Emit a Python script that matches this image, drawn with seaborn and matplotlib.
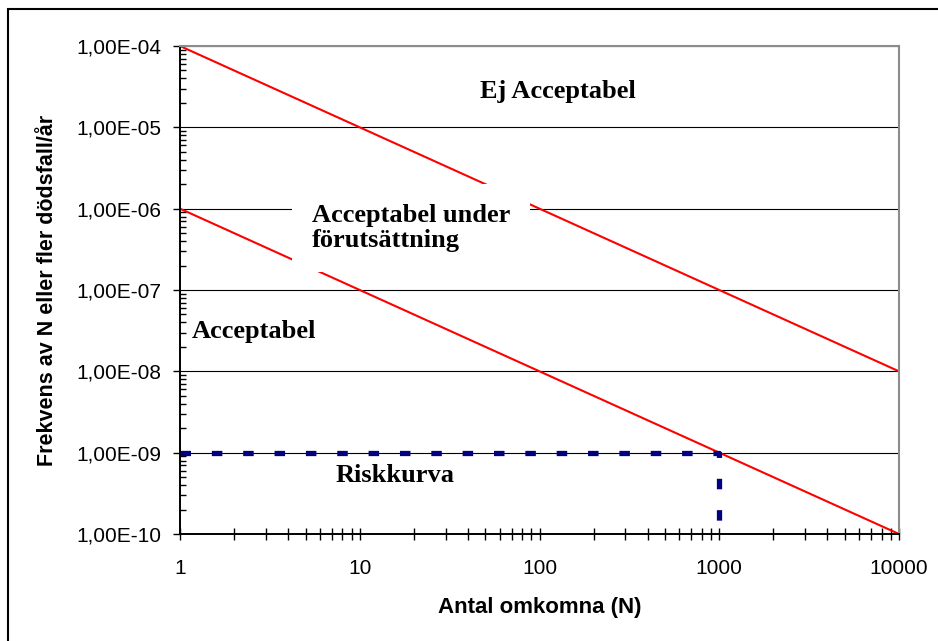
import numpy as np
import matplotlib
matplotlib.use('Agg')
import matplotlib.pyplot as plt
import matplotlib.ticker as mticker
from matplotlib.patches import Rectangle
import seaborn as sns

# Gränslinjer för risknivåer (antal omkomna N, frekvens per år)
upper_n = [1, 10000]
upper_f = [1e-4, 1e-8]
lower_n = [1, 10000]
lower_f = [1e-6, 1e-10]

# Riskkurva
risk_n = [1, 1000, 1000]
risk_f = [1e-9, 1e-9, 1e-10]

x_ticks = [1, 10, 100, 1000, 10000]
y_ticks = [1e-10, 1e-9, 1e-8, 1e-7, 1e-6, 1e-5, 1e-4]

sns.set_style('ticks')
plt.rcParams['font.family'] = ['Liberation Sans', 'DejaVu Sans']
plt.rcParams['text.color'] = 'black'

fig = plt.figure(figsize=(9.38, 6.41), dpi=100)
ax = fig.add_axes([180 / 938, 1 - 534 / 641, 719 / 938, 488 / 641])

sns.lineplot(x=upper_n, y=upper_f, color='#ff0000', lw=1.5, estimator=None, sort=False, ax=ax)
sns.lineplot(x=lower_n, y=lower_f, color='#ff0000', lw=1.5, estimator=None, sort=False, ax=ax)
sns.lineplot(x=risk_n, y=risk_f, color='#000080', lw=3.8, estimator=None, sort=False, ax=ax)
risk_line = ax.lines[-1]
risk_line.set_dashes((1.99, 3.95))
risk_line.set_dash_capstyle('butt')
risk_line.set_solid_joinstyle('miter')

ax.set_xscale('log')
ax.set_yscale('log')
ax.set_xlim(x_ticks[0], x_ticks[-1])
ax.set_ylim(y_ticks[0], y_ticks[-1])

ax.xaxis.set_major_locator(mticker.FixedLocator(x_ticks))
ax.xaxis.set_major_formatter(mticker.FuncFormatter(lambda v, p: f'{v:.0f}'))
ax.xaxis.set_minor_locator(mticker.LogLocator(base=10, subs=np.arange(2, 10)))
ax.xaxis.set_minor_formatter(mticker.NullFormatter())
ax.yaxis.set_major_locator(mticker.FixedLocator(y_ticks))
ax.yaxis.set_major_formatter(mticker.FuncFormatter(lambda v, p: f'{v:.2E}'.replace('.', ',')))
ax.yaxis.set_minor_locator(mticker.LogLocator(base=10, subs=np.arange(2, 10), numticks=20))
ax.yaxis.set_minor_formatter(mticker.NullFormatter())

ax.tick_params(axis='y', which='major', direction='out', length=5, width=1,
               pad=8.5, labelsize=15, colors='black', left=True)
ax.tick_params(axis='y', which='minor', direction='in', length=4.5, width=1,
               colors='black', left=True)
ax.tick_params(axis='x', which='both', direction='inout', length=8.5, width=1,
               colors='black', bottom=True)
ax.tick_params(axis='x', which='major', pad=14, labelsize=15)

ax.grid(True, axis='y', which='major', color='black', lw=0.8)
ax.set_axisbelow(True)

for side in ['left', 'bottom']:
    ax.spines[side].set_color('black')
    ax.spines[side].set_linewidth(1.4)
for side in ['top', 'right']:
    ax.spines[side].set_visible(True)
    ax.spines[side].set_color('#8c8c8c')
    ax.spines[side].set_linewidth(1.5)

ax.set_xlabel('Antal omkomna (N)', fontsize=16, fontweight='bold', color='black')
ax.set_ylabel('Frekvens av N eller fler dödsfall/år', fontsize=15.5, fontweight='bold', color='black')
ax.xaxis.set_label_coords(0.5, -0.129)
ax.yaxis.set_label_coords(-0.170, 0.5)

# Områdesetiketter
serif = ['Liberation Serif', 'DejaVu Serif']
ax.text(46.7, 2.3e-5, 'Ej Acceptabel', family=serif, fontsize=19, fontweight='bold',
        ha='left', va='baseline', zorder=5)
ax.text(5.42, 5.8e-7, 'Acceptabel under\nförutsättning', family=serif, fontsize=19,
        fontweight='bold', ha='left', va='center', linespacing=1.1, zorder=5,
        bbox=dict(boxstyle='square,pad=0.75', fc='white', ec='none'))
ax.text(1.166, 2.57e-8, 'Acceptabel', family=serif, fontsize=19, fontweight='bold',
        ha='left', va='baseline', zorder=5)
ax.text(7.38, 4.36e-10, 'Riskkurva', family=serif, fontsize=19, fontweight='bold',
        ha='left', va='baseline', zorder=5)

# Ram runt hela diagrammet
fig.add_artist(Rectangle((8 / 938, -0.1), 1.2, 1.1 - 9 / 641, transform=fig.transFigure,
                         fill=False, ec='black', lw=1.5))

fig.savefig('out.png', dpi=100)
